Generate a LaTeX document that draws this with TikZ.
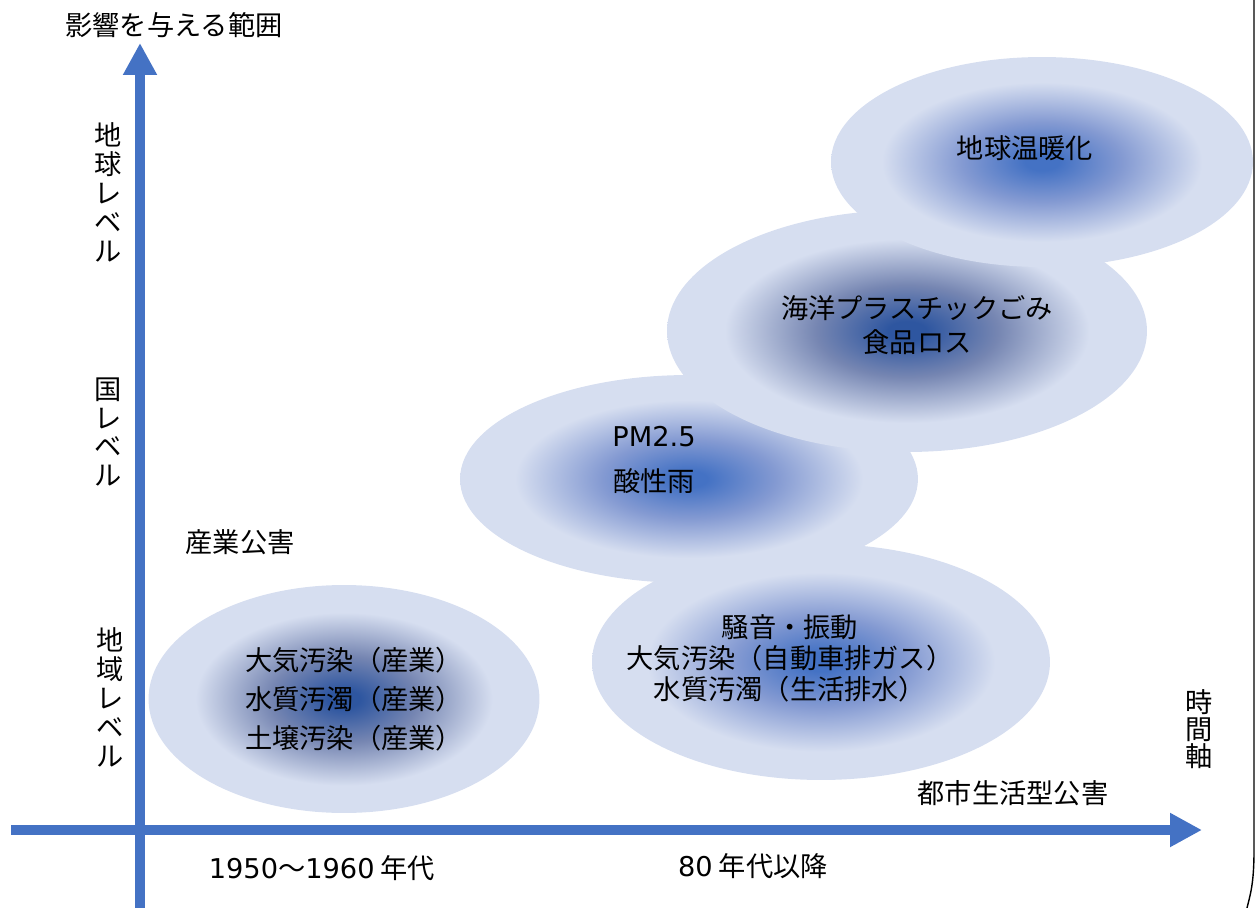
\documentclass[tikz,border=0pt]{standalone}
\usepackage{fontspec}
\usetikzlibrary{arrows.meta,shapes.geometric}
\newfontfamily\jp{Noto Sans CJK JP}
\newfontfamily\lat{DejaVu Sans}
\definecolor{axisblue}{RGB}{68,114,196}
\definecolor{gpale}{RGB}{214,222,240}
\definecolor{gblue}{RGB}{68,114,196}
\definecolor{gmidblue}{RGB}{132,154,210}
\definecolor{gdark}{RGB}{46,86,160}
\definecolor{gmiddark}{RGB}{118,134,178}
\pgfdeclareradialshading{blueglow}{\pgfpoint{0bp}{0bp}}{color(0bp)=(gblue); color(2bp)=(gblue); color(9.5bp)=(gmidblue); color(19bp)=(gpale); color(50bp)=(gpale)}
\pgfdeclareradialshading{darkglow}{\pgfpoint{0bp}{0bp}}{color(0bp)=(gdark); color(2bp)=(gdark); color(9.5bp)=(gmiddark); color(19bp)=(gpale); color(50bp)=(gpale)}
\tikzset{
  blob/.style={ellipse, draw=none, inner sep=0pt, shade, shading=#1},
  axisline/.style={draw=axisblue, line width=0.2cm, -{Triangle[width=0.64cm,length=0.64cm]}},
  lbl/.style={font=\jp\fontsize{15.5}{#1}\selectfont, inner sep=0pt, align=center, text=black},
  lbl/.default=19,
  edgeline/.style={draw=black, line width=0.8pt}
}
\begin{document}
\begin{tikzpicture}[x=0.02cm, y=-0.02cm]
\useasboundingbox (0,0) rectangle (1256,908);
% ellipses (back to front)
\node[blob=blueglow, minimum width=9.16cm, minimum height=4.72cm] (ebr) at (821,662) {};
\node[blob=blueglow, minimum width=9.16cm, minimum height=4.16cm] (epm) at (689,479) {};
\node[blob=darkglow, minimum width=9.6cm, minimum height=4.84cm] (esea) at (907,331) {};
\node[blob=blueglow, minimum width=8.44cm, minimum height=4.2cm] (eglobal) at (1042,162) {};
\node[blob=darkglow, minimum width=7.82cm, minimum height=4.56cm] (ebl) at (344,699) {};
% right edge line
\coordinate (r1) at (1254,0);
\coordinate (r2) at (1254,850);
\coordinate (r3) at (1247,908);
\draw[edgeline] (r1) -- (r2) .. controls (1254,885) and (1250,895) .. (r3);
% axes
\coordinate (yb) at (140,908);
\coordinate (yt) at (140,43);
\coordinate (xl) at (11,830);
\coordinate (xr) at (1202,830);
\draw[axisline] (yb) -- (yt);
\draw[axisline] (xl) -- (xr);
% labels
\node[lbl] (ytitle) at (174,25) {影響を与える範囲};
\node[lbl=16.5] (ychikyu) at (108,192) {地\\球\\レ\\ベ\\ル};
\node[lbl=16.5] (ykuni) at (108,432) {国\\レ\\ベ\\ル};
\node[lbl=16.5] (ychiiki) at (110,697) {地\\域\\レ\\ベ\\ル};
\node[lbl=15.4] (xtitle) at (1199,729) {時\\間\\軸};
\node[lbl] (sangyo) at (240,542) {産業公害};
\node[lbl] (toshi) at (1013,793) {都市生活型公害};
\node[lbl] (t1950) at (322,868) {{\lat 1950}～{\lat 1960} 年代};
\node[lbl] (t80) at (753,866) {{\lat 80} 年代以降};
\node[lbl=22] (tbl) at (354,699) {大気汚染（産業）\\水質汚濁（産業）\\土壌汚染（産業）};
\node[lbl=17.6] (tbr) at (790,658) {騒音・振動\\大気汚染（自動車排ガス）\\水質汚濁（生活排水）};
\node[lbl=26] (tpm) at (654,460) {{\lat PM2.5}\\酸性雨};
\node[lbl=19.3] (tsea) at (917,325) {海洋プラスチックごみ\\食品ロス};
\node[lbl] (tglobal) at (1025,148) {地球温暖化};
\end{tikzpicture}
\end{document}
